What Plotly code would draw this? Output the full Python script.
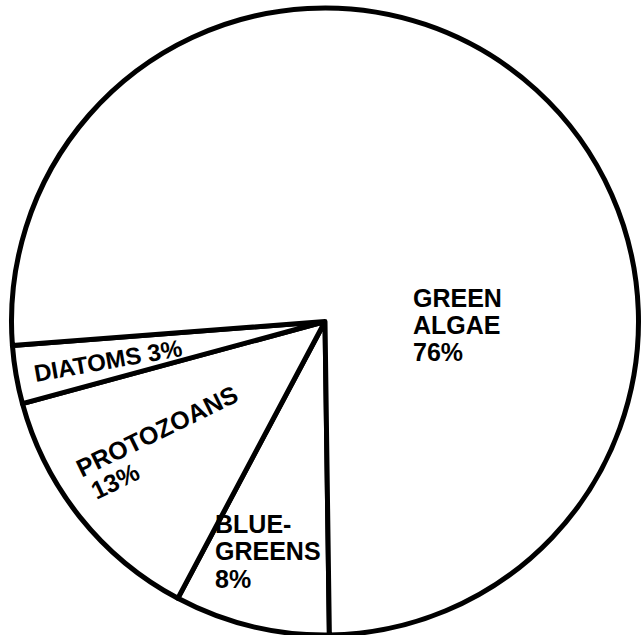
import plotly.graph_objects as go

# ---- data ----
categories = ["BLUE-GREENS", "PROTOZOANS", "DIATOMS", "GREEN ALGAE"]
percent = [8, 13, 3, 76]
label_lines = [["BLUE-", "GREENS"], ["PROTOZOANS"], ["DIATOMS"], ["GREEN", "ALGAE"]]

W, H = 644, 635


def px(x):
    return x / W


def py(y):
    return 1 - y / H


fig = go.Figure(
    go.Pie(
        labels=categories,
        values=percent,
        sort=False,
        direction="clockwise",
        rotation=179.2,
        marker=dict(colors=["white"] * 4, line=dict(color="black", width=5)),
        textinfo="none",
        hoverinfo="label+percent",
        showlegend=False,
        domain=dict(x=[px(11), px(639)], y=[py(635), py(8)]),
    )
)

FONT = dict(family="Liberation Sans, Arial, sans-serif", size=25, color="black")
annotations = []


def add(text, x, y, angle=0, xanchor="left", size=25):
    annotations.append(
        dict(
            text="<b>%s</b>" % text,
            x=px(x),
            y=py(y),
            xref="paper",
            yref="paper",
            showarrow=False,
            xanchor=xanchor,
            yanchor="middle",
            textangle=angle,
            font=dict(FONT, size=size),
        )
    )


# Green algae (horizontal, left aligned)
ga = label_lines[3] + ["%d%%" % percent[3]]
for txt, yy in zip(ga, [297.5, 325, 351.5]):
    add(txt, 411, yy)

# Blue-greens
bg = label_lines[0] + ["%d%%" % percent[0]]
for txt, yy in zip(bg, [524, 551, 579]):
    add(txt, 213, yy)

# Diatoms (rotated, fitted inside the thin slice)
add("%s %d%%" % (label_lines[2][0], percent[2]), 108, 360, angle=-10, xanchor="center", size=24)

# Protozoans (rotated, two lines)
add(label_lines[1][0], 157, 431, angle=-26, xanchor="center")
add("%d%%" % percent[1], 115, 481, angle=-26, xanchor="center")

fig.update_layout(
    width=W,
    height=H,
    margin=dict(l=0, r=0, t=0, b=0),
    paper_bgcolor="white",
    plot_bgcolor="white",
    annotations=annotations,
)

fig.write_html("out.html")
